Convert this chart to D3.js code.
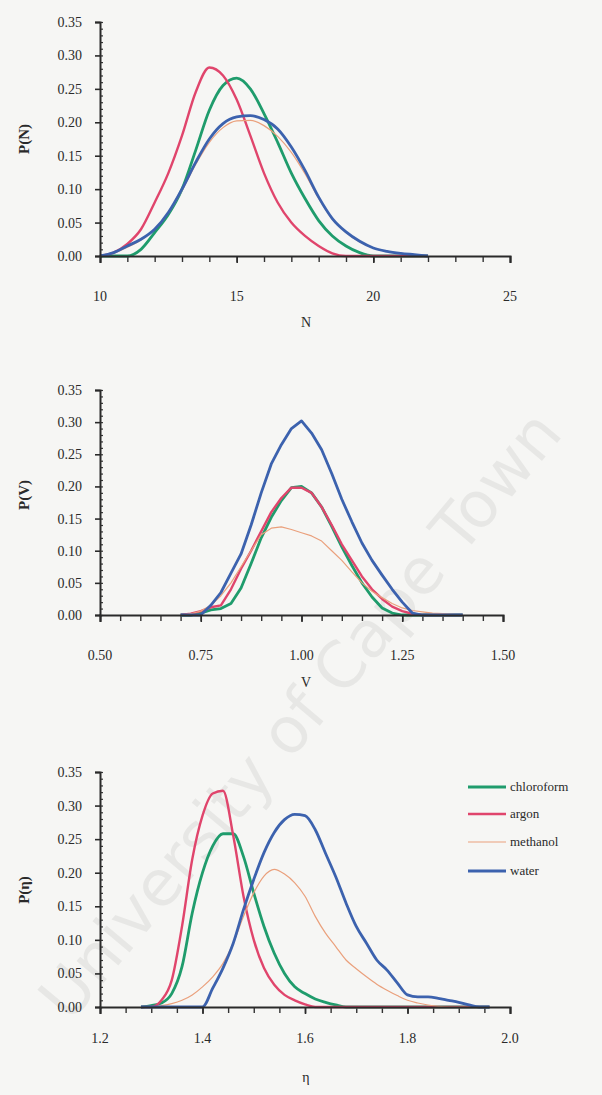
<!DOCTYPE html>
<html>
<head>
<meta charset="utf-8">
<script src="https://cdn.jsdelivr.net/npm/d3@7"></script>
<style>
  html, body { margin: 0; padding: 0; background: #f6f6f4; }
  svg { display: block; }
  text { font-family: "Liberation Serif", "DejaVu Serif", serif; fill: #2a2a2a; }
</style>
</head>
<body>
<div id="chart"></div>
<script>
// series names and colours
const seriesNames = ["chloroform", "argon", "methanol", "water"];
const seriesColors = { chloroform: "#1f9c6c", argon: "#e0456c", methanol: "#eaa07c", water: "#3c62ae" };
const seriesWidths = { chloroform: 2.8, argon: 2.4, methanol: 1.2, water: 2.8 };

// panel 1: P(N)
const nGrid = [10, 10.5, 11, 11.5, 12, 12.5, 13, 13.5, 14, 14.5, 15, 15.5, 16, 16.5, 17, 17.5, 18, 18.5, 19, 19.5, 20, 20.5, 21, 21.5, 22];
const nChloroform = [0, 0, 0, 0.01, 0.035, 0.062, 0.1, 0.158, 0.218, 0.255, 0.266, 0.25, 0.213, 0.17, 0.124, 0.086, 0.053, 0.03, 0.015, 0.005, 0, 0, 0, 0, 0];
const nArgon = [0, 0.005, 0.018, 0.04, 0.08, 0.124, 0.18, 0.245, 0.282, 0.27, 0.234, 0.18, 0.124, 0.08, 0.05, 0.03, 0.015, 0.004, 0, 0, 0, 0, 0, 0, 0];
const nMethanol = [0, 0.004, 0.013, 0.024, 0.04, 0.064, 0.098, 0.137, 0.17, 0.192, 0.202, 0.203, 0.195, 0.179, 0.155, 0.123, 0.086, 0.055, 0.035, 0.021, 0.012, 0.007, 0.004, 0.002, 0];
const nWater = [0, 0.005, 0.015, 0.025, 0.04, 0.065, 0.1, 0.14, 0.175, 0.198, 0.208, 0.21, 0.204, 0.19, 0.163, 0.128, 0.088, 0.056, 0.036, 0.022, 0.012, 0.007, 0.004, 0.002, 0];

// panel 2: P(V)
const vGrid = [0.7, 0.725, 0.75, 0.775, 0.8, 0.825, 0.85, 0.875, 0.9, 0.925, 0.95, 0.975, 1.0, 1.025, 1.05, 1.075, 1.1, 1.125, 1.15, 1.175, 1.2, 1.225, 1.25, 1.275, 1.3, 1.325, 1.35, 1.375, 1.4];
const vChloroform = [0, 0, 0.003, 0.008, 0.01, 0.018, 0.042, 0.08, 0.12, 0.152, 0.178, 0.198, 0.2, 0.19, 0.168, 0.138, 0.106, 0.077, 0.05, 0.028, 0.011, 0.003, 0, 0, 0, 0, 0, 0, 0];
const vArgon = [0, 0.002, 0.006, 0.012, 0.015, 0.04, 0.072, 0.1, 0.13, 0.16, 0.182, 0.198, 0.198, 0.19, 0.168, 0.14, 0.11, 0.085, 0.06, 0.04, 0.025, 0.013, 0.006, 0.002, 0, 0, 0, 0, 0];
const vMethanol = [0, 0.002, 0.006, 0.015, 0.03, 0.05, 0.075, 0.1, 0.125, 0.135, 0.137, 0.133, 0.128, 0.123, 0.115, 0.1, 0.085, 0.067, 0.05, 0.037, 0.027, 0.018, 0.011, 0.007, 0.005, 0.003, 0.002, 0.001, 0];
const vWater = [0, 0, 0, 0.015, 0.035, 0.065, 0.095, 0.14, 0.19, 0.235, 0.265, 0.29, 0.302, 0.283, 0.257, 0.22, 0.18, 0.145, 0.112, 0.085, 0.062, 0.04, 0.02, 0.003, 0, 0, 0, 0, 0];

// panel 3: P(eta)
const eGrid = [1.28, 1.3, 1.32, 1.34, 1.36, 1.38, 1.4, 1.42, 1.44, 1.46, 1.48, 1.5, 1.52, 1.54, 1.56, 1.58, 1.6, 1.62, 1.64, 1.66, 1.68, 1.7, 1.72, 1.74, 1.76, 1.78, 1.8, 1.82, 1.84, 1.86, 1.88, 1.9, 1.92, 1.94, 1.96];
const eChloroform = [0, 0.002, 0.006, 0.02, 0.06, 0.14, 0.2, 0.24, 0.258, 0.258, 0.224, 0.17, 0.12, 0.08, 0.05, 0.03, 0.02, 0.012, 0.007, 0.003, 0, 0, 0, 0, 0, 0, 0, 0, 0, 0, 0, 0, 0, 0, 0];
const eArgon = [0, 0, 0.01, 0.04, 0.12, 0.22, 0.285, 0.318, 0.322, 0.255, 0.165, 0.1, 0.058, 0.033, 0.018, 0.01, 0.004, 0, 0, 0, 0, 0, 0, 0, 0, 0, 0, 0, 0, 0, 0, 0, 0, 0, 0];
const eMethanol = [0, 0, 0.002, 0.005, 0.01, 0.018, 0.03, 0.045, 0.065, 0.095, 0.135, 0.17, 0.195, 0.205, 0.198, 0.185, 0.165, 0.135, 0.11, 0.09, 0.07, 0.057, 0.045, 0.034, 0.025, 0.017, 0.01, 0.006, 0.003, 0.001, 0, 0, 0, 0, 0];
const eWater = [0, 0, 0, 0, 0, 0, 0, 0.028, 0.058, 0.095, 0.145, 0.19, 0.23, 0.26, 0.279, 0.287, 0.285, 0.264, 0.229, 0.194, 0.155, 0.12, 0.095, 0.07, 0.055, 0.036, 0.018, 0.015, 0.015, 0.013, 0.01, 0.007, 0.003, 0, 0];

// axis tick labels
const yTickValues = [0, 0.05, 0.1, 0.15, 0.2, 0.25, 0.3, 0.35];
const nTickValues = [10, 15, 20, 25];
const vTickValues = [0.5, 0.75, 1.0, 1.25, 1.5];
const eTickValues = [1.2, 1.4, 1.6, 1.8, 2.0];

const W = 602, H = 1095;

const svgEl = d3.select("#chart").append("svg")
  .attr("width", W).attr("height", H);

svgEl.append("rect").attr("width", W).attr("height", H).attr("fill", "#f6f6f4");

// faint watermark behind everything
svgEl.append("text")
  .attr("transform", "translate(300,715) rotate(-50)")
  .attr("text-anchor", "middle")
  .attr("dominant-baseline", "central")
  .style("font-family", "'DejaVu Sans', sans-serif")
  .style("font-size", "64px")
  .style("fill", "#000")
  .style("fill-opacity", 0.06)
  .text("University of Cape Town");

const panels = [
  {
    grid: nGrid, series: { chloroform: nChloroform, argon: nArgon, methanol: nMethanol, water: nWater },
    xDomain: [10, 25], left: 100, right: 510, top: 22, bottom: 256,
    ticks: nTickValues, minorStep: 1, fmt: d3.format("d"), labelY: 301,
    xTitle: "N", xTitleY: 327, yTitle: "P(N)", yTitleY: 139, curve: d3.curveMonotoneX
  },
  {
    grid: vGrid, series: { chloroform: vChloroform, argon: vArgon, methanol: vMethanol, water: vWater },
    xDomain: [0.5, 1.5], left: 100, right: 503, top: 390, bottom: 615,
    ticks: vTickValues, minorStep: 0.05, fmt: d3.format(".2f"), labelY: 660,
    xTitle: "V", xTitleY: 687, yTitle: "P(V)", yTitleY: 495, curve: d3.curveLinear
  },
  {
    grid: eGrid, series: { chloroform: eChloroform, argon: eArgon, methanol: eMethanol, water: eWater },
    xDomain: [1.2, 2.0], left: 100, right: 510, top: 772, bottom: 1007,
    ticks: eTickValues, minorStep: 0.05, fmt: d3.format(".1f"), labelY: 1043,
    xTitle: "η", xTitleY: 1082, yTitle: "P(η)", yTitleY: 890, curve: d3.curveMonotoneX
  }
];

function drawPanel(p) {
  const x = d3.scaleLinear().domain(p.xDomain).range([p.left, p.right]);
  const y = d3.scaleLinear().domain([0, 0.35]).range([p.bottom, p.top]);
  const g = svgEl.append("g");

  // minor ticks
  const xMinor = d3.range(p.xDomain[0], p.xDomain[1] + p.minorStep / 2, p.minorStep);
  g.append("g")
    .attr("transform", `translate(0,${p.bottom})`)
    .call(d3.axisBottom(x).tickValues(xMinor).tickSize(6).tickFormat(""))
    .call(a => a.select(".domain").remove())
    .call(a => a.selectAll("line").attr("stroke", "#333").attr("stroke-width", 1.4));

  const yMinor = d3.range(0, 0.3501, 0.01);
  g.append("g")
    .attr("transform", `translate(${p.left},0)`)
    .call(d3.axisRight(y).tickValues(yMinor).tickSize(3).tickFormat(""))
    .call(a => a.select(".domain").remove())
    .call(a => a.selectAll("line").attr("stroke", "#333").attr("stroke-width", 1.2));

  // curves
  seriesNames.forEach(name => {
    const vals = p.series[name];
    const line = d3.line()
      .x((d, i) => x(p.grid[i]))
      .y(d => y(d))
      .curve(p.curve);
    g.append("path")
      .datum(vals)
      .attr("fill", "none")
      .attr("stroke", seriesColors[name])
      .attr("stroke-width", seriesWidths[name])
      .attr("stroke-linejoin", "round")
      .attr("d", line);
  });

  // main axes
  g.append("g")
    .attr("transform", `translate(0,${p.bottom})`)
    .call(d3.axisBottom(x).tickValues(p.ticks).tickSize(7).tickFormat(p.fmt))
    .call(a => a.select(".domain").attr("stroke", "#2a2a2a").attr("stroke-width", 2))
    .call(a => a.selectAll("line").attr("stroke", "#2a2a2a").attr("stroke-width", 1.6))
    .call(a => a.selectAll("text").remove());

  g.selectAll(".xlab")
    .data(p.ticks)
    .join("text")
    .attr("x", d => x(d))
    .attr("y", p.labelY)
    .attr("text-anchor", "middle")
    .style("font-size", "14px")
    .text(p.fmt);

  g.append("g")
    .attr("transform", `translate(${p.left},0)`)
    .call(d3.axisLeft(y).tickValues(yTickValues).tickSize(5).tickPadding(13).tickFormat(d3.format(".2f")))
    .call(a => a.select(".domain").attr("stroke", "#2a2a2a").attr("stroke-width", 2))
    .call(a => a.selectAll("line").attr("stroke", "#2a2a2a").attr("stroke-width", 1.6))
    .call(a => a.selectAll("text")
      .style("font-family", "'Liberation Serif', serif")
      .style("font-size", "14px")
      .attr("fill", "#2a2a2a"));

  // axis titles
  g.append("text")
    .attr("x", 306).attr("y", p.xTitleY)
    .attr("text-anchor", "middle")
    .style("font-size", "14px")
    .text(p.xTitle);

  g.append("text")
    .attr("transform", `translate(29,${p.yTitleY}) rotate(-90)`)
    .attr("text-anchor", "middle")
    .style("font-size", "15px")
    .style("font-weight", "bold")
    .text(p.yTitle);
}

panels.forEach(drawPanel);

// legend (bottom panel)
const legendY = [787, 814, 842, 871];
const legend = svgEl.append("g");
seriesNames.forEach((name, i) => {
  legend.append("line")
    .attr("x1", 468).attr("x2", 506)
    .attr("y1", legendY[i]).attr("y2", legendY[i])
    .attr("stroke", seriesColors[name])
    .attr("stroke-width", seriesWidths[name]);
  legend.append("text")
    .attr("x", 510).attr("y", legendY[i] + 4)
    .style("font-size", "13px")
    .text(name);
});
</script>
</body>
</html>
